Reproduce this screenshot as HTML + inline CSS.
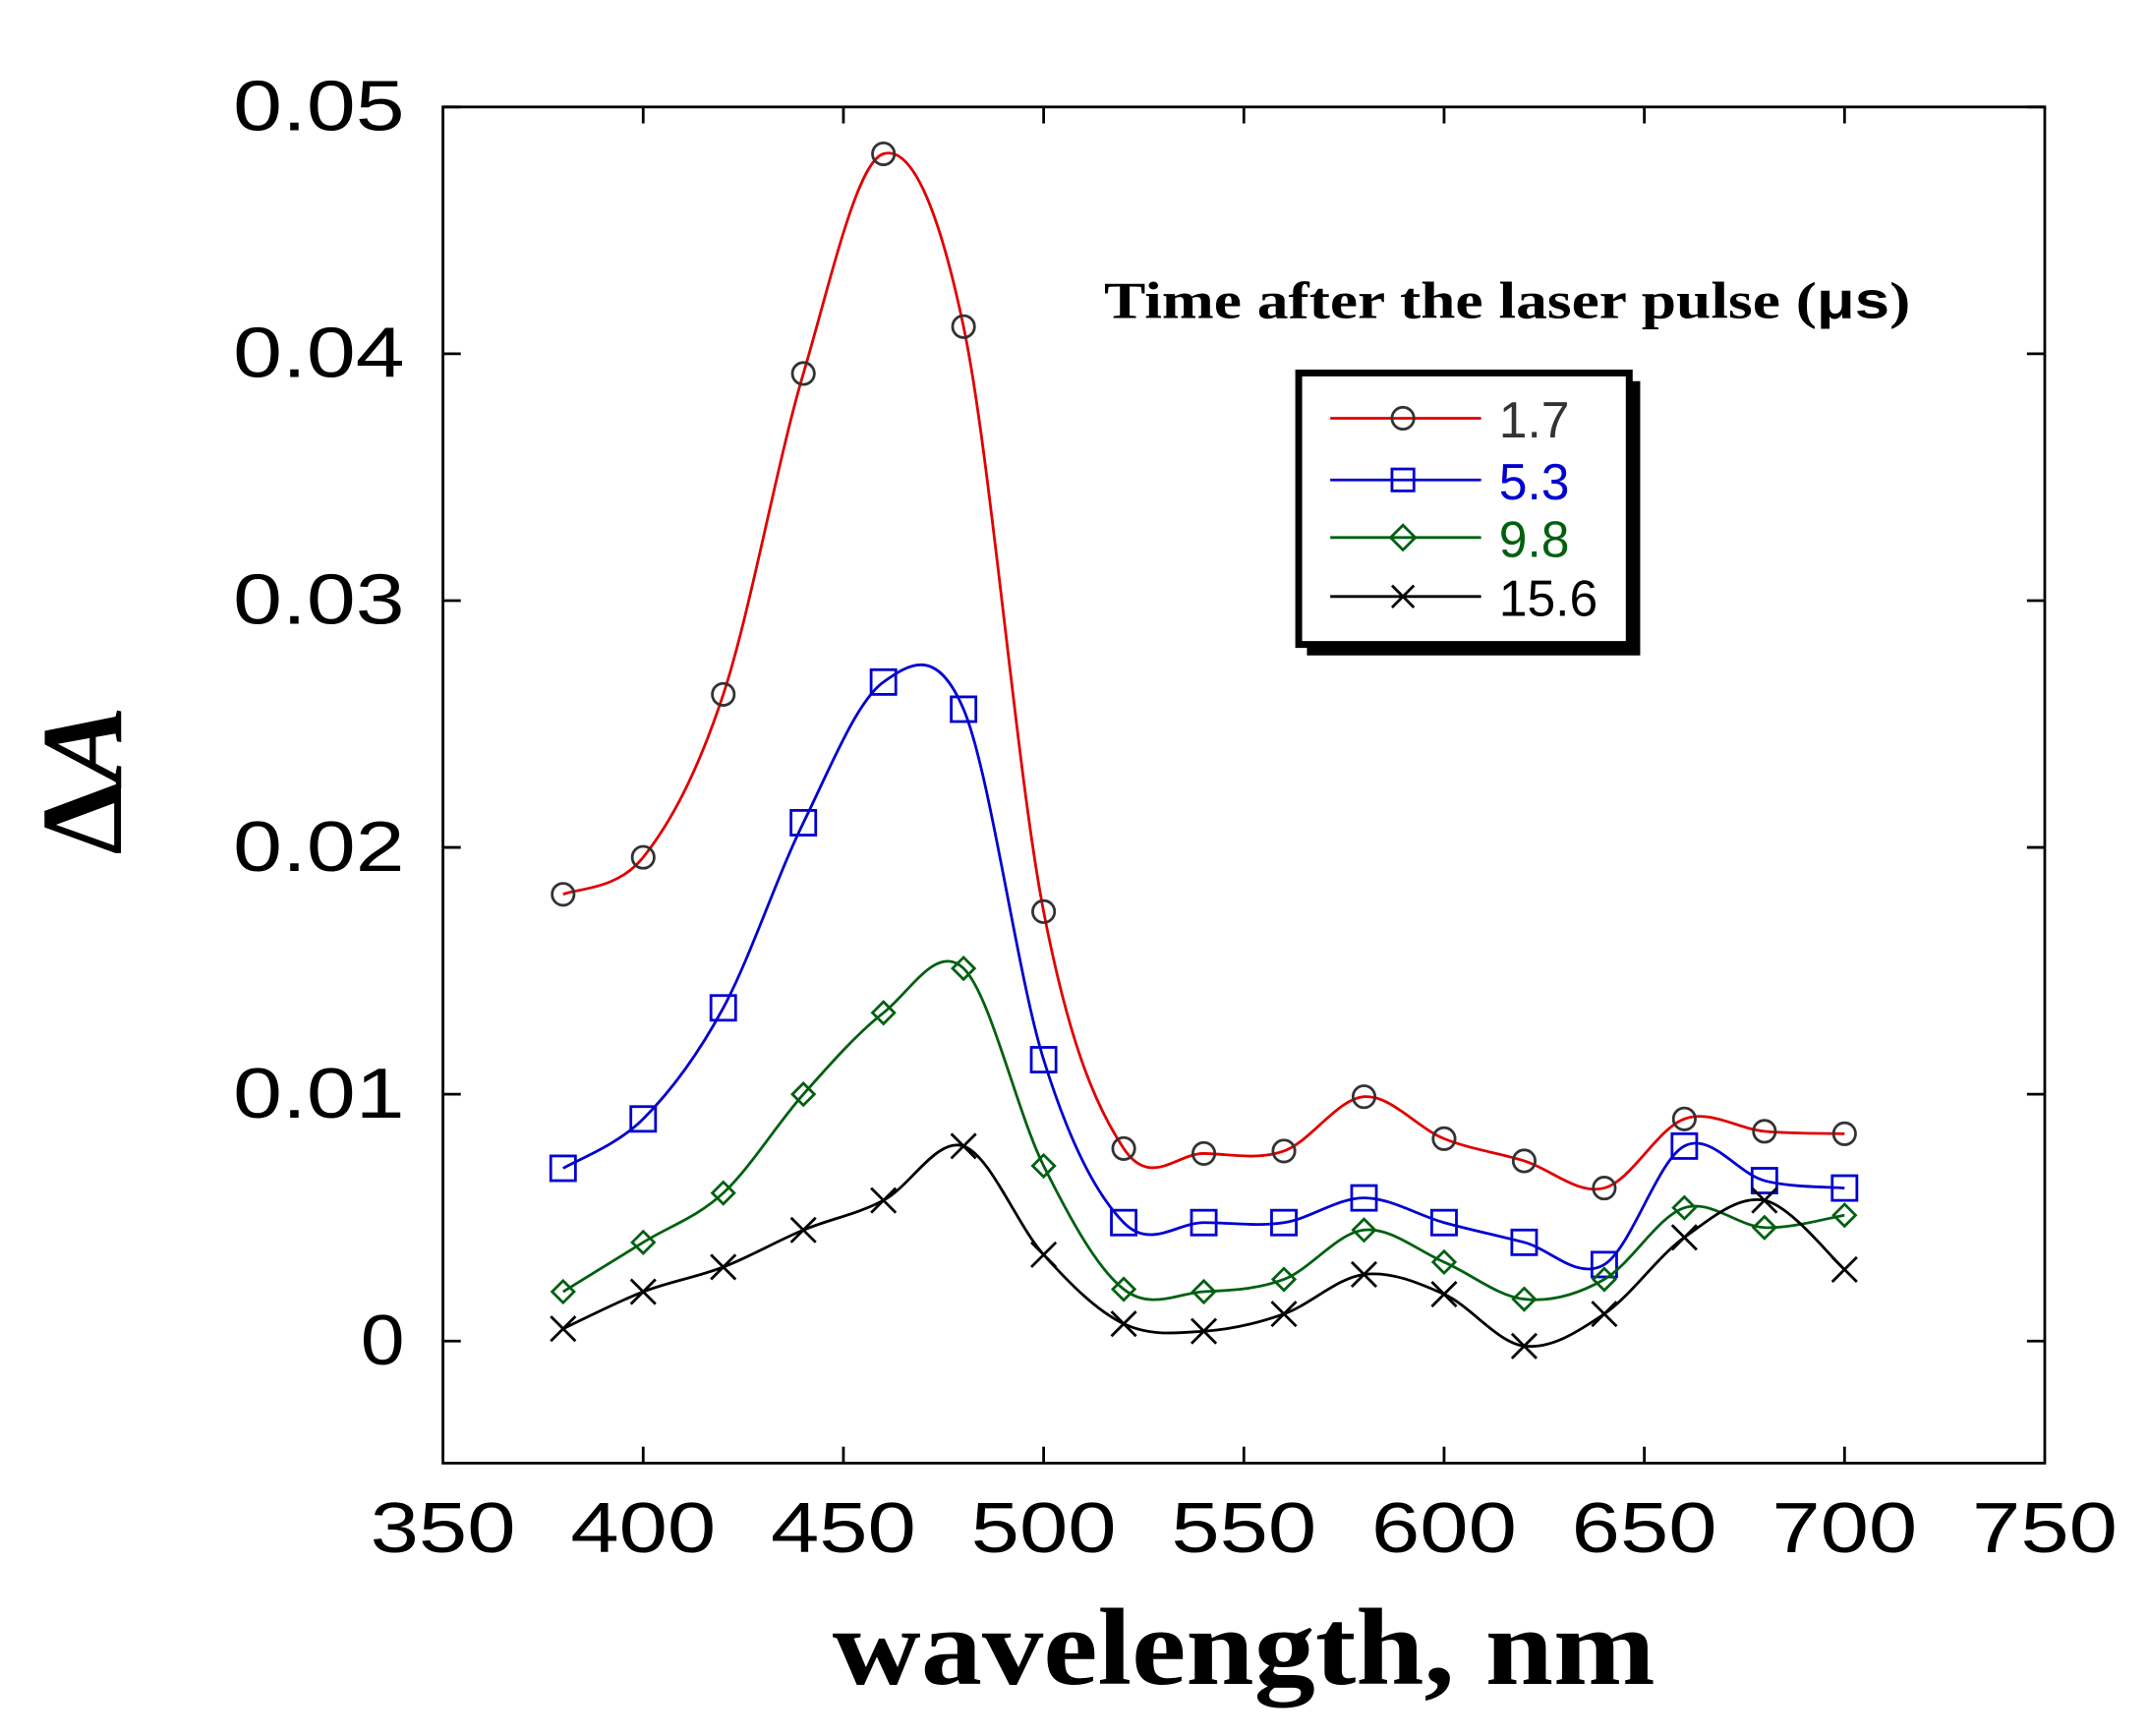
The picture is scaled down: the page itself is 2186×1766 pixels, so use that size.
<!DOCTYPE html>
<html><head><meta charset="utf-8"><style>
html,body{margin:0;padding:0;background:#fff;}
svg{display:block;}
text{font-family:"Liberation Sans",Arial,sans-serif;}
.serif{font-family:"Liberation Serif","Times New Roman",serif;font-weight:bold;}
</style></head><body>
<svg id="s" width="2186" height="1766" viewBox="0 0 1567 1266" preserveAspectRatio="none" xmlns="http://www.w3.org/2000/svg">
<rect x="0" y="0" width="1567" height="1266" fill="#fff"/>
<rect x="323" y="78" width="1168" height="989" fill="none" stroke="#000" stroke-width="2"/>
<g id="ticks" stroke="#000" stroke-width="2"></g>
<g font-size="52" fill="#000">
<text x="170" y="95" textLength="125" lengthAdjust="spacingAndGlyphs">0.05</text>
<text x="170" y="275" textLength="125" lengthAdjust="spacingAndGlyphs">0.04</text>
<text x="170" y="455" textLength="125" lengthAdjust="spacingAndGlyphs">0.03</text>
<text x="170" y="635" textLength="125" lengthAdjust="spacingAndGlyphs">0.02</text>
<text x="170" y="815" textLength="125" lengthAdjust="spacingAndGlyphs">0.01</text>
<text x="263" y="995" textLength="32" lengthAdjust="spacingAndGlyphs">0</text>
</g>
<g id="xl" font-size="52" fill="#000"></g>
<text class="serif" x="607" y="1228" font-size="80" textLength="600" lengthAdjust="spacingAndGlyphs">wavelength, nm</text>
<text class="serif" transform="translate(88,569) rotate(-90)" font-size="84" text-anchor="middle">Δ<tspan font-style="italic">A</tspan></text>
<g id="series"></g>
<text class="serif" x="805" y="232" font-size="38" textLength="588" lengthAdjust="spacingAndGlyphs">Time after the laser pulse  (<tspan font-family="Liberation Sans">μs</tspan>)</text>
<polygon points="953,278 1196,278 1196,478 953,478" fill="#000"/>
<rect x="947" y="272" width="241" height="198" fill="#fff" stroke="#000" stroke-width="5"/>
<g stroke-width="2" fill="none">
<line x1="970" y1="305" x2="1080" y2="305" stroke="#e00000"/>
<circle cx="1023" cy="305" r="8" stroke="#333"/>
<line x1="970" y1="350" x2="1080" y2="350" stroke="#0000d0"/>
<rect x="1015" y="342" width="16" height="16" stroke="#0000d0"/>
<line x1="970" y1="392" x2="1080" y2="392" stroke="#006010"/>
<polygon points="1023,383 1032,392 1023,401 1014,392" stroke="#006010"/>
<line x1="970" y1="435" x2="1080" y2="435" stroke="#000"/>
<path d="M1015,427 L1031,443 M1015,443 L1031,427" stroke="#000"/>
</g>
<g font-size="37">
<text x="1093" y="319" fill="#333">1.7</text>
<text x="1093" y="364" fill="#0000d0">5.3</text>
<text x="1093" y="406" fill="#006010">9.8</text>
<text x="1093" y="449" fill="#000">15.6</text>
</g>
</svg>
<script>
var NS="http://www.w3.org/2000/svg";
function el(t,a,p){var e=document.createElementNS(NS,t);for(var k in a)e.setAttribute(k,a[k]);p.appendChild(e);return e;}
var tk=document.getElementById('ticks');
for(var i=1;i<8;i++){var x=323+i*146;el('line',{x1:x,y1:1067,x2:x,y2:1055},tk);el('line',{x1:x,y1:78,x2:x,y2:90},tk);}
for(var j=0;j<6;j++){var y=978-j*180;el('line',{x1:323,y1:y,x2:336,y2:y},tk);el('line',{x1:1491,y1:y,x2:1478,y2:y},tk);}
var xl=document.getElementById('xl');
for(var i=0;i<9;i++){var t=el('text',{x:323+i*146-53,y:1132,textLength:106,lengthAdjust:'spacingAndGlyphs'},xl);t.textContent=String(350+50*i);}
var X=function(n){return 323+(n-350)*2.92;},Y=function(v){return 978-v*18000;};
var D=[
["#e00000","#333","c",[.0181,.0196,.0262,.0392,.0481,.0411,.0174,.0078,.0076,.0077,.0099,.0082,.0073,.0062,.0090,.0085,.0084]],
["#0000d0","#0000d0","s",[.0070,.0090,.0135,.0210,.0267,.0256,.0114,.0048,.0048,.0048,.0058,.0048,.0040,.0031,.0079,.0065,.0062]],
["#006010","#006010","d",[.0020,.0040,.0060,.0100,.0133,.0151,.0071,.0021,.0020,.0025,.0045,.0032,.0017,.0025,.0054,.0046,.0051]],
["#000","#000","x",[.0005,.0020,.0030,.0045,.0057,.0079,.0035,.0007,.0004,.0011,.0027,.0019,-.0002,.0011,.0042,.0057,.0029]]];
var g=document.getElementById('series');
D.forEach(function(s){
 var p=s[3].map(function(v,i){return [X(380+20*i),Y(v)];});
 var d="M"+p[0][0]+","+p[0][1];
 for(var i=0;i<p.length-1;i++){
  var p0=p[Math.max(i-1,0)],p1=p[i],p2=p[i+1],p3=p[Math.min(i+2,p.length-1)];
  var c1=[p1[0]+(p2[0]-p0[0])/6,p1[1]+(p2[1]-p0[1])/6],c2=[p2[0]-(p3[0]-p1[0])/6,p2[1]-(p3[1]-p1[1])/6];
  d+=" C"+c1+" "+c2+" "+p2;
 }
 el('path',{d:d,fill:'none',stroke:s[0],'stroke-width':2},g);
 p.forEach(function(q){
  var x=q[0],y=q[1],a={fill:'none',stroke:s[1],'stroke-width':2};
  if(s[2]=='c'){a.cx=x;a.cy=y;a.r=8;el('circle',a,g);}
  else if(s[2]=='s'){a.x=x-9;a.y=y-9;a.width=18;a.height=18;el('rect',a,g);}
  else if(s[2]=='d'){a.points=[x,y-8,x+8,y,x,y+8,x-8,y].join(' ');el('polygon',a,g);}
  else {a.d="M"+(x-9)+","+(y-9)+"L"+(x+9)+","+(y+9)+"M"+(x-9)+","+(y+9)+"L"+(x+9)+","+(y-9);el('path',a,g);}
 });
});
</script>
</body></html>
